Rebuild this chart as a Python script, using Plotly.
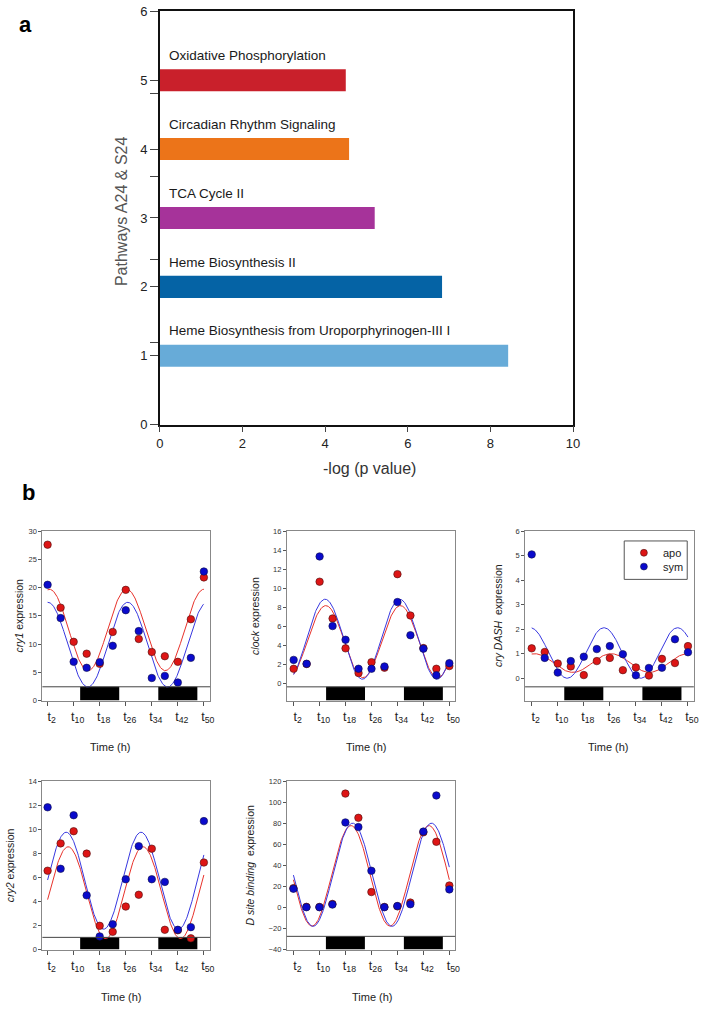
import numpy as np
import plotly.graph_objects as go

# ---------------- panel a: enriched pathways ----------------
pathways = ["Oxidative Phosphorylation",
            "Circadian Rhythm Signaling",
            "TCA Cycle II",
            "Heme Biosynthesis II",
            "Heme Biosynthesis from Uroporphyrinogen-III I"]
pathway_rank = [5, 4, 3, 2, 1]
neg_log_p = [4.50, 4.58, 5.20, 6.83, 8.43]
pathway_colours = ["#C9202B", "#EC7419", "#A6339A", "#0563A5", "#67ABD8"]

# ---------------- panel b: expression time courses ----------------
times = [2, 6, 10, 14, 18, 22, 26, 30, 34, 38, 42, 46, 50]
tick_hours = [2, 10, 18, 26, 34, 42, 50]
dark_start = [12, 36]
dark_end = [24, 48]
series_names = ["apo", "sym"]

cry1_apo = [27.6, 16.45, 10.4, 8.3, 6.5, 12.15, 19.6, 10.9, 8.6, 7.85, 6.86, 14.4, 21.8]
cry1_sym = [20.5, 14.6, 6.86, 5.8, 6.8, 9.7, 16.0, 12.3, 4.0, 4.36, 3.2, 7.56, 22.85]
clock_apo = [1.55, 2.05, 10.69, 6.83, 3.69, 1.10, 2.24, 1.66, 11.48, 7.14, 3.72, 1.55, 1.83]
clock_sym = [2.48, 2.07, 13.34, 6.03, 4.59, 1.55, 1.55, 1.79, 8.55, 5.07, 3.66, 0.86, 2.14]
crydash_apo = [1.22, 1.07, 0.60, 0.48, 0.13, 0.70, 0.83, 0.33, 0.44, 0.11, 0.79, 0.62, 1.31]
crydash_sym = [5.05, 0.83, 0.23, 0.70, 0.88, 1.19, 1.31, 0.98, 0.12, 0.42, 0.43, 1.59, 1.06]
cry2_apo = [6.55, 8.82, 9.83, 7.97, 1.97, 1.47, 3.57, 4.55, 8.38, 1.64, 1.6, 0.93, 7.23]
cry2_sym = [11.82, 6.71, 11.16, 4.5, 1.09, 2.10, 5.84, 8.59, 5.84, 5.62, 1.64, 1.86, 10.67]
dsite_apo = [18.3, 0.5, 0.4, 3.3, 108.1, 85.1, 14.6, 0.4, 1.0, 4.6, 71.3, 62.3, 20.8]
dsite_sym = [17.7, 0.2, 0.2, 2.7, 80.7, 76.3, 34.8, 0.2, 1.3, 3.0, 72.0, 106.3, 17.1]

# cosinor fits: mesor, amplitude, period (h), time of peak (h)
cry1_fit_apo = [12.5, 7.2, 23.7, 2.6]
cry1_fit_sym = [9.9, 7.5, 24.5, 2.1]
clock_fit_apo = [4.4, 3.78, 23.0, 11.9]
clock_fit_sym = [4.65, 4.2, 23.0, 11.7]
crydash_fit_apo = [0.62, 0.38, 23.5, 2.9]
crydash_fit_sym = [1.03, 1.03, 22.6, 1.6]
cry2_fit_apo = [4.72, 3.82, 23.0, 8.3]
cry2_fit_sym = [5.72, 4.03, 23.0, 7.7]
dsite_fit_apo = [30.0, 47.7, 24.0, 19.7]
dsite_fit_sym = [31.0, 49.0, 24.3, 20.2]

W, H = 709, 1012
RED = "#DD1515"
BLUE = "#0A0ACC"
RED_LINE = "#E8322B"
BLUE_LINE = "#3838E0"
FONT = "Liberation Sans, Arial, Helvetica, sans-serif"


def fx(p):
    return p / W


def fy(p):
    return 1 - p / H


def cosinor(fit, t):
    mesor, amp, period, peak = fit
    return mesor + amp * np.cos(2 * np.pi * (t - peak) / period)


def label(x, y, text, size, color='#222', angle=0, bold=False):
    if bold:
        text = '<b>%s</b>' % text
    return dict(x=fx(x), y=fy(y), xref='paper', yref='paper', text=text,
                textangle=angle, showarrow=False, xanchor='center',
                yanchor='middle', font=dict(size=size, color=color))


fig = go.Figure()
annotations = []
shapes = []

# ---- panel a
fig.add_trace(go.Bar(
    x=neg_log_p, y=pathway_rank, orientation='h', width=0.32,
    marker=dict(color=pathway_colours, line=dict(width=0)),
    showlegend=False, hoverinfo='x+text', text=pathways, textposition='none',
    xaxis='x', yaxis='y'))

for name, rank in zip(pathways, pathway_rank):
    annotations.append(dict(
        x=0.18, y=rank + 0.36, xref='x', yref='y', text=name,
        showarrow=False, xanchor='left', yanchor='middle',
        font=dict(size=13.5, color='#1a1a1a')))

layout_axes = dict(
    xaxis=dict(domain=[fx(158.3), fx(578)], range=[0, 10], anchor='y',
               tickvals=[0, 2, 4, 6, 8, 10], ticks='outside', ticklen=6,
               showline=True, linecolor='#111', linewidth=1.5, mirror=True,
               showgrid=False, zeroline=False,
               tickfont=dict(size=13, color='#222')),
    yaxis=dict(domain=[fy(424), fy(4.3)], range=[0, 6], anchor='x',
               tickvals=[0, 1, 1.2, 2, 2.4, 3, 3.6, 4, 4.8, 5, 6],
               ticktext=['0', '1', '', '2', '', '3', '', '4', '', '5', '6'],
               ticks='outside', ticklen=8,
               showline=True, linecolor='#111', linewidth=1.5, mirror=True,
               showgrid=False, zeroline=False,
               tickfont=dict(size=13, color='#222')),
)

annotations += [
    label(120, 207, 'Pathways A24 &amp; S24', 16, '#555', angle=-90),
    label(371, 468, '-log (p value)', 16, '#333'),
    label(22, 18, 'a', 22, '#000', bold=True),
    label(25, 493, 'b', 22, '#000', bold=True),
]

# ---- panel b
genes = [
    dict(apo=cry1_apo, sym=cry1_sym, fit_apo=cry1_fit_apo, fit_sym=cry1_fit_sym,
         title='<i>cry1</i> expression'),
    dict(apo=clock_apo, sym=clock_sym, fit_apo=clock_fit_apo, fit_sym=clock_fit_sym,
         title='<i>clock</i> expression'),
    dict(apo=crydash_apo, sym=crydash_sym, fit_apo=crydash_fit_apo,
         fit_sym=crydash_fit_sym, title='<i>cry DASH</i>\u00a0\u00a0expression'),
    dict(apo=cry2_apo, sym=cry2_sym, fit_apo=cry2_fit_apo, fit_sym=cry2_fit_sym,
         title='<i>cry2</i> expression'),
    dict(apo=dsite_apo, sym=dsite_sym, fit_apo=dsite_fit_apo, fit_sym=dsite_fit_sym,
         title='<i>D site binding</i>\u00a0\u00a0expression'),
]

# frame geometry in pixels: x0, x1, y_top, y_bottom, y range, dtick, strip top,
# x range, y-title x, time-title x, time-title y
frames = [
    dict(x0=39, x1=209.3, yt=532, yb=704, yr=[0, 30], dt=5, strip=2.44,
         xr=[0.4, 51.9], ytx=15, ttx=108, tty=751),
    dict(x0=287.3, x1=458.3, yt=532, yb=704, yr=[-1.79, 16], dt=2, strip=-0.35,
         xr=[-0.1, 51.8], ytx=255, ttx=368, tty=751),
    dict(x0=529.3, x1=700.7, yt=532, yb=704, yr=[-0.91, 6], dt=1, strip=-0.35,
         xr=[-0.03, 51.8], ytx=502, ttx=614, tty=751),
    dict(x0=39, x1=209.3, yt=785.7, yb=956.7, yr=[0, 14], dt=2, strip=1.01,
         xr=[0.4, 51.9], ytx=6, ttx=119, tty=1005),
    dict(x0=287.3, x1=458.3, yt=785.7, yb=956.7, yr=[-40, 120], dt=20, strip=-27.5,
         xr=[-0.03, 51.8], ytx=250, ttx=374, tty=1005),
]

t_fine = np.linspace(2, 50, 300)

for i, (g, f) in enumerate(zip(genes, frames)):
    n = i + 2
    xa, ya = 'x%d' % n, 'y%d' % n

    fig.add_trace(go.Scatter(x=t_fine, y=cosinor(g['fit_apo'], t_fine), mode='lines',
                             line=dict(color=RED_LINE, width=1), showlegend=False,
                             hoverinfo='skip', xaxis=xa, yaxis=ya))
    fig.add_trace(go.Scatter(x=t_fine, y=cosinor(g['fit_sym'], t_fine), mode='lines',
                             line=dict(color=BLUE_LINE, width=1), showlegend=False,
                             hoverinfo='skip', xaxis=xa, yaxis=ya))
    fig.add_trace(go.Scatter(x=times, y=g['apo'], mode='markers', name=series_names[0],
                             marker=dict(color=RED, size=7.5,
                                         line=dict(color='#4a1010', width=0.6)),
                             showlegend=False, xaxis=xa, yaxis=ya))
    fig.add_trace(go.Scatter(x=times, y=g['sym'], mode='markers', name=series_names[1],
                             marker=dict(color=BLUE, size=7.5,
                                         line=dict(color='#10104a', width=0.6)),
                             showlegend=False, xaxis=xa, yaxis=ya))

    layout_axes['xaxis%d' % n] = dict(
        domain=[fx(f['x0']), fx(f['x1'])], range=f['xr'], anchor=ya,
        tickvals=tick_hours, ticktext=['t<sub>%d</sub>' % h for h in tick_hours],
        ticks='outside', ticklen=4, tickcolor='#555', ticklabelshift=4,
        showline=True, linecolor='#888', linewidth=1, mirror=True,
        showgrid=False, zeroline=False, tickfont=dict(size=12.5, color='#222'))
    layout_axes['yaxis%d' % n] = dict(
        domain=[fy(f['yb']), fy(f['yt'])], range=f['yr'], anchor=xa,
        tick0=0, dtick=f['dt'],
        ticks='outside', ticklen=3, tickcolor='#555',
        showline=True, linecolor='#888', linewidth=1, mirror=True,
        showgrid=False, zeroline=False, tickfont=dict(size=7.5, color='#333'))

    # light / dark bar along the bottom of each frame
    shapes.append(dict(type='rect', xref=xa + ' domain', yref=ya, x0=0, x1=1,
                       y0=f['yr'][0], y1=f['strip'], fillcolor='white',
                       line=dict(width=0), layer='below'))
    for d0, d1 in zip(dark_start, dark_end):
        shapes.append(dict(type='rect', xref=xa, yref=ya, x0=d0, x1=d1,
                           y0=f['yr'][0], y1=f['strip'], fillcolor='black',
                           line=dict(width=0), layer='below'))
    shapes.append(dict(type='line', xref=xa + ' domain', yref=ya, x0=0, x1=1,
                       y0=f['strip'], y1=f['strip'],
                       line=dict(color='#444', width=1)))

    annotations.append(label(f['ytx'], (f['yt'] + f['yb']) / 2, g['title'], 10.5,
                             angle=-90))
    annotations.append(label(f['ttx'], f['tty'], 'Time (h)', 11))

# key for the apo / sym symbols, drawn inside the cry DASH frame
shapes.append(dict(type='rect', xref='paper', yref='paper',
                   x0=fx(630), x1=fx(694), y0=fy(581), y1=fy(542),
                   fillcolor='white', line=dict(color='#555', width=1)))
for name, colour, edge, row in zip(series_names, [RED, BLUE], ['#4a1010', '#10104a'],
                                   [554, 568]):
    shapes.append(dict(type='circle', xref='paper', yref='paper',
                       x0=fx(646.5), x1=fx(653.5), y0=fy(row + 3.5), y1=fy(row - 3.5),
                       fillcolor=colour, line=dict(color=edge, width=0.6)))
    annotations.append(dict(x=fx(667), y=fy(row), xref='paper', yref='paper',
                            text=name, showarrow=False, xanchor='left',
                            yanchor='middle', font=dict(size=11, color='#222')))

fig.update_layout(
    width=W, height=H,
    margin=dict(l=0, r=0, t=0, b=0),
    paper_bgcolor='white', plot_bgcolor='white',
    font=dict(family=FONT, color='#222'),
    annotations=annotations,
    shapes=shapes,
    showlegend=False,
    **layout_axes)

# the page body has a default 8px margin; drop it so the figure sits at 0,0
fig.write_html("out.html", config=dict(displayModeBar=False),
               post_script="document.body.style.margin = '0px';")
